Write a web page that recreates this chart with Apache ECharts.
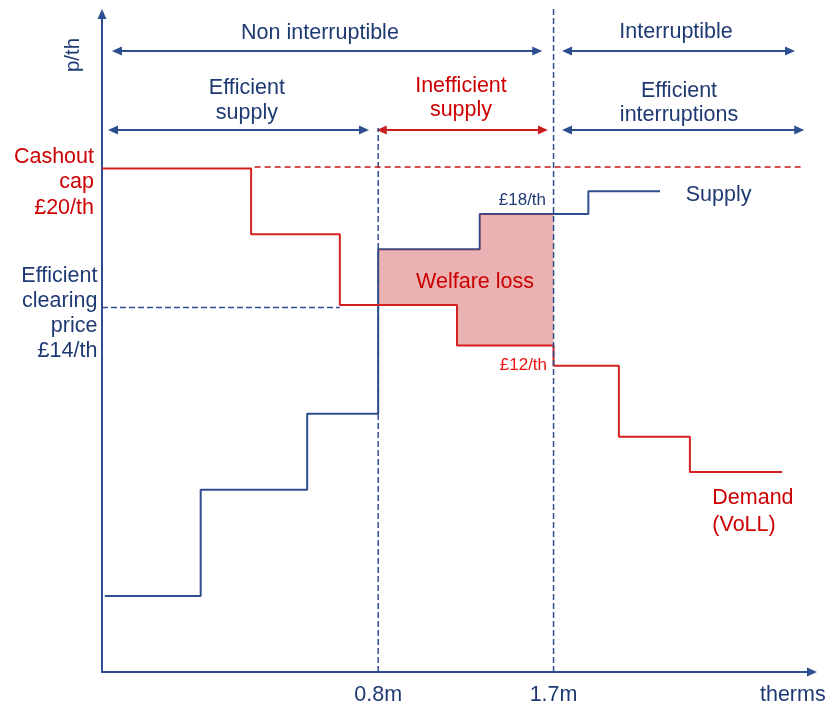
<!DOCTYPE html>
<html>
<head>
<meta charset="utf-8">
<script src="https://cdn.jsdelivr.net/npm/echarts@6/dist/echarts.min.js"></script>
<style>
  html, body { margin: 0; padding: 0; background: #fff; }
  #chart { width: 828px; height: 708px; }
</style>
</head>
<body>
<div id="chart"></div>
<script>
  // quantity axis in arbitrary units (0 = origin, 100 = end of axis), price roughly in £/th
  var supplyQ = [0.4, 13.9, 28.9, 38.9, 53.2, 68.5, 78.6];
  var supplyP = [3.0, 7.2, 10.2, 16.7, 18.1, 19.0];
  var demandQ = [0, 21.0, 33.5, 50.0, 63.6, 72.8, 82.8, 95.8];
  var demandP = [19.9, 17.3, 14.5, 12.9, 12.1, 9.3, 7.9];
  var cashoutCap = 19.95;
  var clearingPrice = 14.4;
  var qTicks = [38.9, 63.6];
  var qTickLabels = ["0.8m", "1.7m"];

  var NAVY = "#1F3A73";
  var LINE_BLUE = "#2E4F8F";
  var RED = "#CC0000";
  var LINE_RED = "#D42020";
  var FONT = "'Liberation Sans', Arial, sans-serif";
  var FS = 21.5;

  // step function -> points with one value per segment
  function stepData(q, p) {
    var out = [];
    for (var i = 0; i < p.length; i++) out.push([q[i], p[i]]);
    out.push([q[q.length - 1], p[p.length - 1]]);
    return out;
  }
  // horizontal pieces of a step function between a and b
  function stepPoints(q, p, a, b) {
    var pts = [];
    for (var i = 0; i < p.length; i++) {
      if (q[i + 1] > a && q[i] < b) {
        pts.push([Math.max(q[i], a), p[i]]);
        pts.push([Math.min(q[i + 1], b), p[i]]);
      }
    }
    return pts;
  }

  var welfare = stepPoints(supplyQ, supplyP, qTicks[0], qTicks[1])
    .concat(stepPoints(demandQ, demandP, qTicks[0], qTicks[1]).reverse());

  // double headed range arrows
  var spans = [
    { from: 2.1, to: 61.3, level: 24.54, color: LINE_BLUE },
    { from: 65.5, to: 96.9, level: 24.54, color: LINE_BLUE },
    { from: 1.55, to: 36.9, level: 21.42, color: LINE_BLUE },
    { from: 39.4, to: 62.1, level: 21.42, color: "#C81E1E" },
    { from: 65.5, to: 98.2, level: 21.42, color: LINE_BLUE }
  ];

  var notes = [
    { text: "Non interruptible", q: 30.7, p: 25.24, color: NAVY, size: FS, align: "center" },
    { text: "Interruptible", q: 80.85, p: 25.28, color: NAVY, size: FS, align: "center" },
    { text: "Efficient\nsupply", q: 20.4, p: 22.58, color: NAVY, size: FS, align: "center", lh: 24.5 },
    { text: "Inefficient\nsupply", q: 50.56, p: 22.68, color: RED, size: FS, align: "center", lh: 24.5 },
    { text: "Efficient\ninterruptions", q: 81.27, p: 22.48, color: NAVY, size: FS, align: "center", lh: 24 },
    { text: "Cashout\ncap\n£20/th", q: -1.13, p: 19.34, color: RED, size: FS, align: "right", lh: 25.5 },
    { text: "Efficient\nclearing\nprice\n£14/th", q: -0.65, p: 14.17, color: NAVY, size: FS, align: "right", lh: 25.2 },
    { text: "£18/th", q: 62.54, p: 18.62, color: NAVY, size: 17, align: "right" },
    { text: "£12/th", q: 62.68, p: 12.13, color: "#EE1111", size: 17, align: "right" },
    { text: "Welfare loss", q: 52.54, p: 15.42, color: RED, size: FS, align: "center" },
    { text: "Supply", q: 82.21, p: 18.84, color: NAVY, size: FS, align: "left" },
    { text: "Demand\n(VoLL)", q: 85.96, p: 6.33, color: RED, size: FS, align: "left", lh: 26.7 },
    { text: "therms", q: 97.3, p: -0.92, color: NAVY, size: FS, align: "center" },
    { text: "p/th", q: -4.08, p: 24.38, color: NAVY, size: 20.5, align: "center", rotate: Math.PI / 2 }
  ];

  var chart = echarts.init(document.getElementById("chart"), null, { renderer: "canvas" });

  function guide(points, color, width, dash) {
    return {
      type: "line",
      data: points,
      symbol: "none",
      clip: false,
      silent: true,
      z: 5,
      lineStyle: { color: color, width: width, type: dash }
    };
  }

  chart.setOption({
    animation: false,
    grid: { left: 102, right: 16, top: 14, bottom: 36 },
    xAxis: {
      type: "value",
      min: 0,
      max: 100,
      splitLine: { show: false },
      axisTick: { show: false },
      axisLine: {
        show: true,
        symbol: ["none", "triangle"],
        symbolSize: [9, 10],
        lineStyle: { color: LINE_BLUE, width: 2 }
      },
      axisLabel: {
        customValues: qTicks,
        formatter: function (v) {
          return qTickLabels[qTicks.indexOf(v)];
        },
        color: NAVY,
        fontSize: FS,
        fontFamily: FONT,
        margin: 12
      }
    },
    yAxis: {
      type: "value",
      min: 0,
      max: 26,
      splitLine: { show: false },
      axisTick: { show: false },
      axisLabel: { show: false },
      axisLine: {
        show: true,
        symbol: ["none", "triangle"],
        symbolSize: [9, 10],
        lineStyle: { color: LINE_BLUE, width: 2 }
      }
    },
    series: [
      {
        name: "Supply",
        type: "line",
        step: "end",
        data: stepData(supplyQ, supplyP),
        symbol: "none",
        z: 2,
        lineStyle: { color: LINE_BLUE, width: 2 }
      },
      {
        name: "Welfare loss",
        type: "custom",
        z: 3,
        silent: true,
        data: [0],
        renderItem: function (params, api) {
          return {
            type: "polygon",
            shape: { points: welfare.map(function (pt) { return api.coord(pt); }) },
            style: { fill: "rgba(190,20,20,0.33)" }
          };
        }
      },
      {
        name: "Demand",
        type: "line",
        step: "end",
        data: stepData(demandQ, demandP),
        symbol: "none",
        z: 4,
        lineStyle: { color: LINE_RED, width: 2 }
      },
      guide([[qTicks[0], 0], [qTicks[0], 21.5]], LINE_BLUE, 1.5, [6, 3]),
      guide([[qTicks[1], 0], [qTicks[1], 26.3]], LINE_BLUE, 1.5, [6, 3]),
      guide([[0, clearingPrice], [33.5, clearingPrice]], LINE_BLUE, 1.5, [6, 3]),
      guide([[21.5, cashoutCap], [98.7, cashoutCap]], "#C81818", 1.5, [6, 4]),
      {
        name: "ranges",
        type: "line",
        data: [],
        markLine: {
          silent: true,
          symbol: ["triangle", "triangle"],
          symbolSize: [9, 10],
          label: { show: false },
          data: spans.map(function (s) {
            return [
              { coord: [s.from, s.level], lineStyle: { color: s.color, width: 2, type: "solid" }, itemStyle: { color: s.color } },
              { coord: [s.to, s.level] }
            ];
          })
        }
      },
      {
        name: "notes",
        type: "custom",
        clip: false,
        silent: true,
        z: 10,
        data: notes.map(function (n) { return [n.q, n.p]; }),
        renderItem: function (params, api) {
          var n = notes[params.dataIndex];
          var pos = api.coord([n.q, n.p]);
          return {
            type: "text",
            x: pos[0],
            y: pos[1],
            rotation: n.rotate || 0,
            style: {
              text: n.text,
              fill: n.color,
              fontSize: n.size,
              fontFamily: FONT,
              align: n.align,
              verticalAlign: "middle",
              lineHeight: n.lh || n.size * 1.2
            }
          };
        }
      }
    ]
  });
</script>
</body>
</html>
